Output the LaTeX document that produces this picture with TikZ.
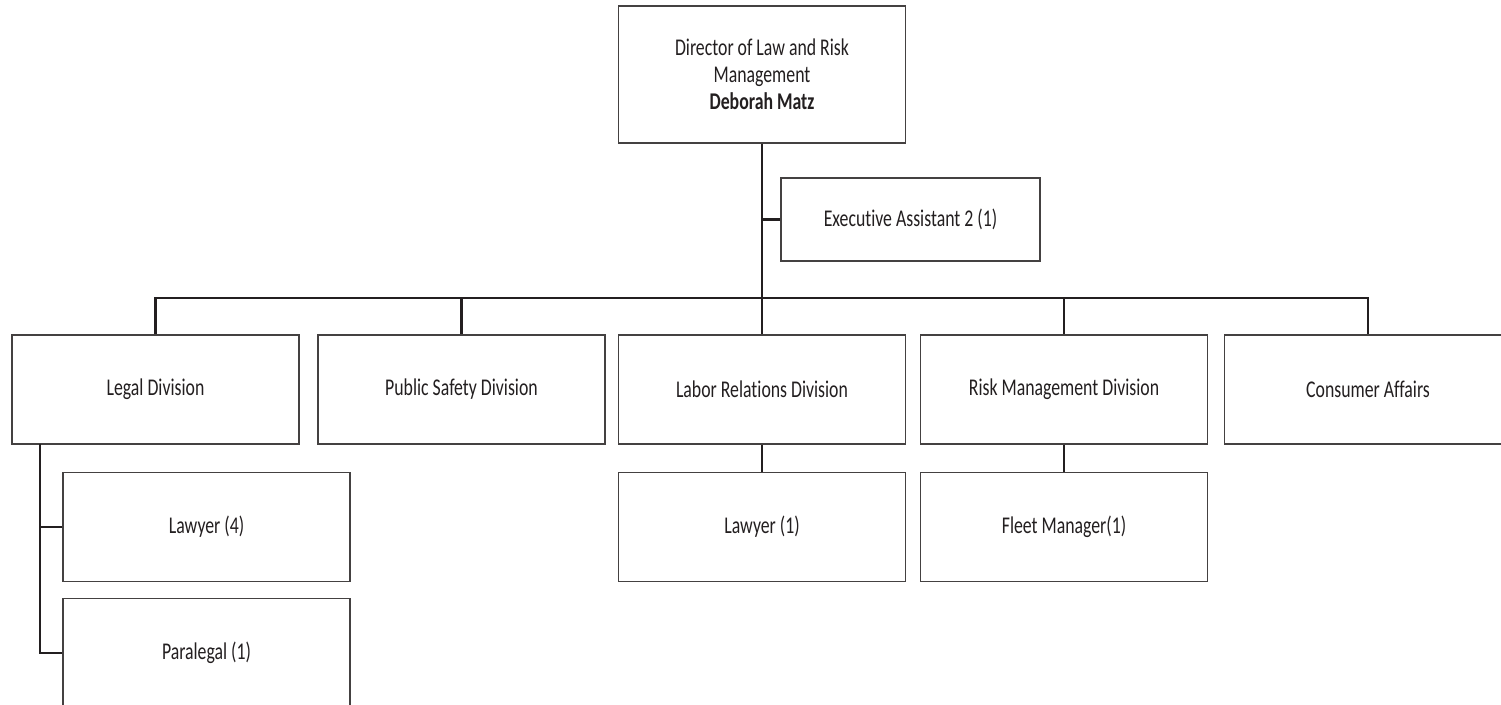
\documentclass[tikz,border=0pt]{standalone}
\usepackage{fontspec}
\setmainfont[FakeStretch=0.74, Ligatures=NoCommon]{Carlito}
\definecolor{ink}{HTML}{231F20}

\tikzset{
  box/.style={draw=ink!85, line width=1.3pt, minimum width=287pt, minimum height=109pt,
    align=center, text=ink, font=\fontsize{24}{27}\selectfont, inner sep=0pt},
  link/.style={draw=ink, line width=2.8pt}
}

\begin{document}
\begin{tikzpicture}[x=1pt,y=-1pt]

  \clip (0,0) rectangle (1501,704);
  \fill[white] (0,0) rectangle (1501,704);

%%%%%%%%%%%%%%%%%%%%%%%%%%%%%%%%%%%%%%%%%%
  % Top of the chart
  \node[box, minimum height=137pt] (dir) at (762,74.5)
    {Director of Law and Risk\\Management\\\textbf{Deborah Matz}};
  \node[box, minimum width=259pt, minimum height=83pt] (assist) at (910.5,219.5)
    {Executive Assistant 2 (1)};

  % Bus line
  \coordinate (bus) at (762,298);

%%%%%%%%%%%%%%%%%%%%%%%%%%%%%%%%%%%%%%%%%%
  % Divisions
  \node[box] (legal)    at (155.5,389.5) {Legal Division};
  \node[box] (safety)   at (461.5,389.5) {Public Safety Division};
  \node[box] (labor)    at (762,389.5)   {Labor Relations Division};
  \node[box] (risk)     at (1064,389.5)  {Risk Management Division};
  \node[box] (consumer) at (1368,389.5)  {Consumer Affairs};

  % Staff under the divisions
  \node[box] (lawyerA) at (206.5,527) {Lawyer (4)};
  \node[box] (para)    at (206.5,653) {Paralegal (1)};
  \node[box] (lawyerB) at (762,527)   {Lawyer (1)};
  \node[box] (fleet)   at (1064,527)  {Fleet Manager(1)};

  \coordinate (spine) at (40,444);

%%%%%%%%%%%%%%%%%%%%%%%%%%%%%%%%%%%%%%%%%%
  % Connectors
  \draw[link] (dir.south) -- (bus) -- (labor.north);
  \draw[link] (assist.west) -- (assist.west -| dir.south);
  \draw[link] (legal.north) |- (consumer.north |- bus) -- (consumer.north);
  \draw[link] (safety.north) -- (safety.north |- bus);
  \draw[link] (risk.north) -- (risk.north |- bus);

  \draw[link] (spine) |- (para.west);
  \draw[link] (lawyerA.west) -- (lawyerA.west -| spine);
  \draw[link] (labor.south) -- (lawyerB.north);
  \draw[link] (risk.south) -- (fleet.north);

\end{tikzpicture}
\end{document}
